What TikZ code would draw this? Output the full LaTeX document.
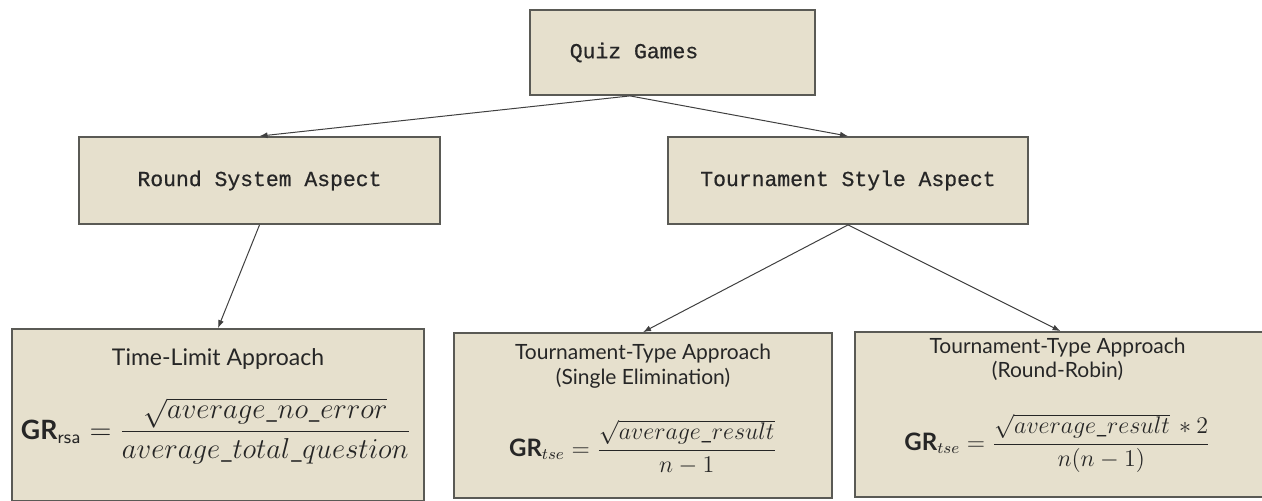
\documentclass[tikz,border=0pt]{standalone}
\usepackage{fontspec}
\setmainfont{Lato}
\setmonofont[FakeBold=0.6]{Liberation Mono}
\usepackage{amsmath}
\usetikzlibrary{positioning, arrows.meta}

\definecolor{boxfill}{HTML}{E6E0CD}
\definecolor{boxline}{HTML}{5A5A55}

\begin{document}
\begin{tikzpicture}[x=0.5pt, y=-0.5pt, node distance = 1cm, auto,
	box/.style={draw=boxline, fill=boxfill, line width=0.9pt, inner sep=0pt},
	aspect/.style={font=\ttfamily\fontsize{10.7}{12}\selectfont, text=black!85},
	approach/.style={font=\fontsize{10.5}{12.5}\selectfont, align=center, text=black!85},
	formula/.style={font=\fontsize{12}{14}\selectfont, text=black!85},
	line/.style={draw=black!75, line width=0.5pt, -{Latex[length=4pt, width=3pt]}}]
			\useasboundingbox (0,0) rectangle (1262,500);
			
			\node [box, aspect, minimum width=142.5pt, minimum height=42.5pt] (quiz) at (672.5,52.5) {Quiz Games\hspace*{38.5pt}};
			\node [box, aspect, minimum width=180.5pt, minimum height=43.5pt] (rsa) at (259.5,180.5) {Round System Aspect};
			\node [box, aspect, minimum width=180pt, minimum height=43.5pt] (tsa) at (848,180.5) {Tournament Style Aspect};
			
			\node [box, minimum width=206pt, minimum height=86pt] (tla) at (218,415) {};
			\node [box, minimum width=189pt, minimum height=82.5pt] (tse) at (643,415.5) {};
			\node [box, minimum width=205.5pt, minimum height=82.5pt] (trr) at (1060.5,414.5) {};
			
			% texts of the approach boxes
			\node [approach, font=\fontsize{11.5}{13}\selectfont] (tlatitle) at ([yshift=-15.5pt]tla.north) {Time-Limit Approach};
			\node [formula, font=\fontsize{13.3}{16}\selectfont] (tlaform) at ([xshift=-1pt, yshift=-51.5pt]tla.north) {\textbf{GR}$_{\textsf{rsa}} = \dfrac{\sqrt{average\_no\_error}}{average\_total\_question}$};
			\node [approach] (tsetitle) at ([yshift=-17pt]tse.north) {Tournament-Type Approach\\(Single Elimination)};
			\node [formula] (tseform) at ([yshift=-57.5pt]tse.north) {\textbf{GR}$_{tse} = \dfrac{\sqrt{average\_result}}{n-1}$};
			\node [approach, font=\fontsize{10.5}{12}\selectfont] (trrtitle) at ([xshift=-1.5pt, yshift=-14.25pt]trr.north) {Tournament-Type Approach\\(Round-Robin)};
			\node [formula] (trrform) at ([xshift=-1.5pt, yshift=-56pt]trr.north) {\textbf{GR}$_{tse} = \dfrac{\sqrt{average\_result}\,*2}{n(n-1)}$};
			
			\coordinate (split) at ([xshift=-21.25pt]quiz.south);
			\path [line] (split) -- (rsa.north);
			\path [line] (split) -- (tsa.north);
			\path [line] (rsa.south) -- (tla.north);
			\path [line] (tsa.south) -- (tse.north);
			\path [line] (tsa.south) -- (trr.north);
		\end{tikzpicture}
\end{document}
